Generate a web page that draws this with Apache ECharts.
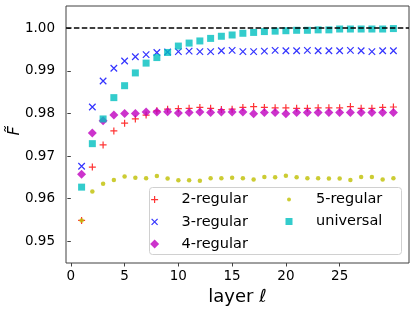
<!DOCTYPE html>
<html><head><meta charset="utf-8">
<script src="https://cdn.jsdelivr.net/npm/echarts@6/dist/echarts.min.js"></script>
<style>html,body{margin:0;padding:0;background:#fff}#c{width:416px;height:311px}</style>
</head><body><div id="c"></div>
<script>
const layers = [1,2,3,4,5,6,7,8,9,10,11,12,13,14,15,16,17,18,19,20,21,22,23,24,25,26,27,28,29,30];
const reg2 = [0.9549,0.9674,0.9726,0.9759,0.9777,0.9787,0.9796,0.9806,0.9810,0.9811,0.9812,0.9814,0.9812,0.9809,0.9810,0.9814,0.9816,0.9814,0.9813,0.9813,0.9812,0.9812,0.9813,0.9813,0.9813,0.9816,0.9812,0.9812,0.9814,0.9815];
const reg3 = [0.9676,0.9815,0.9876,0.9906,0.9923,0.9933,0.9938,0.9943,0.9944,0.9945,0.9946,0.9945,0.9945,0.9947,0.9948,0.9945,0.9945,0.9946,0.9948,0.9947,0.9947,0.9948,0.9947,0.9947,0.9947,0.9948,0.9947,0.9945,0.9947,0.9947];
const reg4 = [0.9657,0.9754,0.9783,0.9796,0.9800,0.9800,0.9803,0.9803,0.9804,0.9801,0.9802,0.9803,0.9802,0.9803,0.9803,0.9803,0.9799,0.9802,0.9802,0.9799,0.9802,0.9802,0.9802,0.9802,0.9802,0.9802,0.9802,0.9802,0.9802,0.9802];
const reg5 = [0.9549,0.9617,0.9635,0.9644,0.9652,0.9649,0.9648,0.9653,0.9647,0.9643,0.9643,0.9642,0.9648,0.9648,0.9649,0.9648,0.9645,0.9651,0.9650,0.9654,0.9650,0.9648,0.9648,0.9647,0.9647,0.9644,0.9651,0.9651,0.9645,0.9648];
const universal = [0.9627,0.9729,0.9787,0.9837,0.9865,0.9895,0.9918,0.9931,0.9943,0.9958,0.9965,0.9970,0.9976,0.9981,0.9984,0.9988,0.9990,0.9992,0.9993,0.9994,0.9995,0.9995,0.9996,0.9996,0.9998,0.9998,0.9998,0.9998,0.9998,0.9999];
const xTicks = [0,5,10,15,20,25];
const yTicks = [0.95,0.96,0.97,0.98,0.99,1.00];
const seriesNames = ['2-regular','3-regular','4-regular','5-regular','universal'];

const pts = arr => layers.map((l,i)=>[l,arr[i]]);
const FONT = 'DejaVu Sans';
const PLUS = 'path://M5,0L5,10M0,5L10,5';
const CROSS = 'path://M0,0L10,10M0,10L10,0';
const chart = echarts.init(document.getElementById('c'), null, {renderer:'canvas'});
chart.setOption({
  animation:false,
  backgroundColor:'#fff',
  grid:{left:66,right:7,top:6,bottom:48,show:true,borderColor:'#404040',borderWidth:1,backgroundColor:'transparent'},
  xAxis:{type:'value',min:-0.45,max:31.45,
    name:'layer ℓ',nameLocation:'middle',nameGap:18,
    nameTextStyle:{fontFamily:FONT,fontSize:18,color:'#000'},
    axisLine:{show:false},splitLine:{show:false},
    axisTick:{show:true,inside:false,length:3.5,lineStyle:{color:'#404040'},customValues:xTicks},
    axisLabel:{fontFamily:FONT,fontSize:13.5,color:'#000',margin:6,customValues:xTicks,formatter:v=>String(v)}},
  yAxis:{type:'value',min:0.9449,max:1.0052,
    axisLine:{show:false},splitLine:{show:false},
    axisTick:{show:true,inside:false,length:3.5,lineStyle:{color:'#404040'},customValues:yTicks},
    axisLabel:{fontFamily:FONT,fontSize:13.5,color:'#000',margin:11,customValues:yTicks,formatter:v=>v.toFixed(2)}},
  legend:[
    {orient:'vertical',left:147,top:192,padding:0,itemWidth:44,itemHeight:14,itemGap:7,
     textStyle:{fontFamily:FONT,fontSize:14.5,color:'#000'},
     data:[
      {name:seriesNames[0],icon:'path://M0,0M14,14M7,3.5L7,10.5M3.5,7L10.5,7',itemStyle:{color:'transparent',borderColor:'#ff0000',borderWidth:1.2}},
      {name:seriesNames[1],icon:'path://M0,0M14,14M4,4L10,10M4,10L10,4',itemStyle:{color:'transparent',borderColor:'#0000ff',borderWidth:1.2}},
      {name:seriesNames[2],icon:'path://M0,0M14,14M7,2.5L11.5,7L7,11.5L2.5,7Z',itemStyle:{color:'#bf00bf',borderWidth:0}}
     ]},
    {orient:'vertical',left:282,top:192,padding:0,itemWidth:44,itemHeight:14,itemGap:7,
     textStyle:{fontFamily:FONT,fontSize:14.5,color:'#000'},
     data:[
      {name:seriesNames[3],icon:'path://M0,0M14,14M5,7A2,2 0 1 1 9,7A2,2 0 1 1 5,7Z',itemStyle:{color:'#bfbf00',borderWidth:0}},
      {name:seriesNames[4],icon:'path://M0,0M14,14M3.5,3.5L10.5,3.5L10.5,10.5L3.5,10.5Z',itemStyle:{color:'#00bfbf',borderWidth:0}}
     ]}
  ],
  graphic:[
    {type:'rect',z:3,shape:{x:149.5,y:187.5,width:252,height:67,r:3},style:{fill:'rgba(255,255,255,0.85)',stroke:'#d0d0d0',lineWidth:1}},
    {type:'text',z:5,x:15,y:131,rotation:Math.PI/2,style:{text:'F\u0303',font:'italic 16px "DejaVu Sans"',fill:'#000',align:'center',verticalAlign:'middle'}}
  ],
  series:[
    {name:seriesNames[0],type:'scatter',data:pts(reg2),symbol:PLUS,symbolSize:7,
     itemStyle:{color:'transparent',borderColor:'#ff0000',borderWidth:1.2},
     markLine:{silent:true,symbol:'none',label:{show:false},lineStyle:{color:'#000',type:[5.5,2.4],width:1.5},data:[{yAxis:1.0}]}},
    {name:seriesNames[1],type:'scatter',data:pts(reg3),symbol:CROSS,symbolSize:6.5,
     itemStyle:{color:'transparent',borderColor:'#0000ff',borderWidth:1.2}},
    {name:seriesNames[2],type:'scatter',data:pts(reg4),symbol:'diamond',symbolSize:9,itemStyle:{color:'#bf00bf'}},
    {name:seriesNames[3],type:'scatter',data:pts(reg5),symbol:'circle',symbolSize:4.5,itemStyle:{color:'#bfbf00'}},
    {name:seriesNames[4],type:'scatter',data:pts(universal),symbol:'rect',symbolSize:7,itemStyle:{color:'#00bfbf'}}
  ]
});
</script></body></html>
